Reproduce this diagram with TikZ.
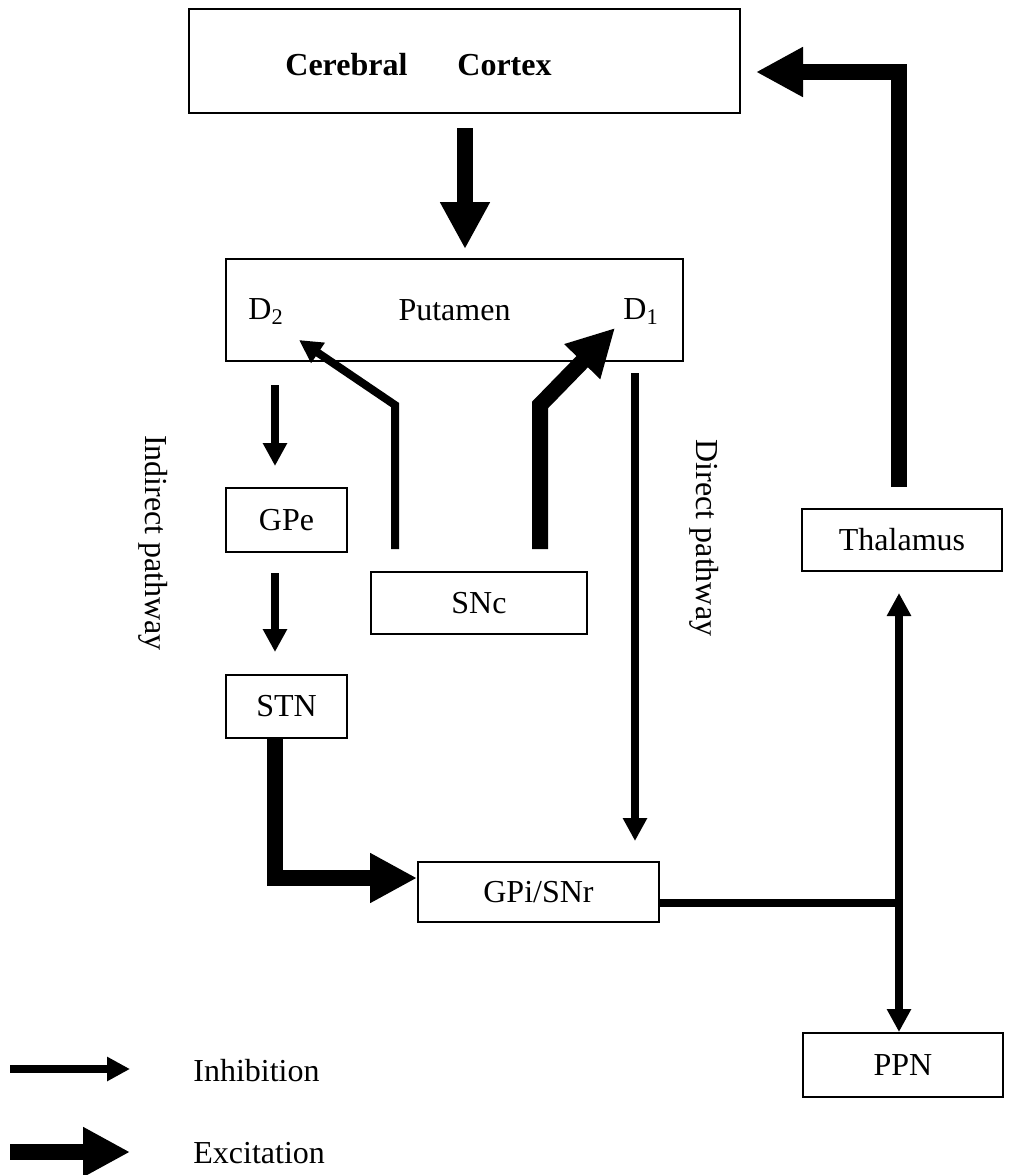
\documentclass[tikz,border=0pt]{standalone}
\usepackage{fontspec}
\setmainfont{Liberation Serif}
\usetikzlibrary{arrows.meta}

\begin{document}
\begin{tikzpicture}[x=0.5pt,y=-0.5pt,
    every node/.style={font=\fontsize{16pt}{19pt}\selectfont},
    box/.style={draw, line width=1pt, inner sep=0pt},
    inhib/.style={line width=4pt, -{Triangle[width=11.5pt,length=11.5pt]}},
    excit/.style={line width=8pt, -{Triangle[width=23.5pt,length=23.5pt]}}]
    \useasboundingbox (0,0) rectangle (1025,1175);
    % boxes
    \node[box, minimum width=275.5pt, minimum height=52pt] (cortex) at (464.5,61) {};
    \node[anchor=base west, inner sep=0pt, font=\fontsize{16pt}{19pt}\selectfont\bfseries] (cortextxt) at (285,75) {Cerebral\hspace{25pt}Cortex};
    \node[box, minimum width=228.5pt, minimum height=51pt] (putamen) at (454.5,310) {Putamen};
    \node[anchor=base west, inner sep=0pt] (d2) at (248,319) {D\textsubscript{2}};
    \node[anchor=base west, inner sep=0pt] (d1) at (623,319) {D\textsubscript{1}};
    \node[box, minimum width=60.5pt, minimum height=32pt] (gpe) at (286.5,520) {GPe};
    \node[box, minimum width=60.5pt, minimum height=31.5pt] (stn) at (286.5,706.5) {STN};
    \node[box, minimum width=108pt, minimum height=31pt] (snc) at (479,603) {SNc};
    \node[box, minimum width=100pt, minimum height=31pt] (thal) at (902,540) {Thalamus};
    \node[box, minimum width=120.5pt, minimum height=30pt] (gpi) at (538.5,892) {GPi/SNr};
    \node[box, minimum width=100pt, minimum height=32pt] (ppn) at (903,1065) {PPN};
    \node[rotate=-90] (indirect) at (153,543) {Indirect pathway};
    \node[rotate=-90] (direct) at (704,538) {Direct pathway};
    % connections
    \coordinate (ctx) at (465,128);
    \draw[excit, shorten >=4.5pt] (ctx) -- (ctx |- putamen.north);
    \coordinate (tcbend) at (899,72);
    \draw[excit, shorten <=10.5pt, shorten >=7.5pt] (tcbend |- thal.north) -- (tcbend) -- (tcbend -| cortex.east);
    \coordinate (d2bend) at (395,405);
    \coordinate (d2tip) at (299,340);
    \draw[inhib, shorten <=11pt] (d2bend |- snc.north) -- (d2bend) -- (d2tip);
    \coordinate (d1bend) at (540,405);
    \coordinate (d1tip) at (615,328);
    \draw[excit, shorten <=11pt] (d1bend |- snc.north) -- (d1bend) -- (d1tip);
    \coordinate (indx) at (275,0);
    \draw[inhib, shorten <=11.5pt, shorten >=10.5pt] (indx |- putamen.south) -- (indx |- gpe.north);
    \draw[inhib, shorten <=10pt, shorten >=11pt] (indx |- gpe.south) -- (indx |- stn.north);
    \coordinate (stnbend) at (275,878);
    \draw[excit] (stnbend |- stn.south) -- (stnbend) -- (stnbend -| gpi.west);
    \coordinate (dirx) at (635,0);
    \draw[inhib, shorten <=5.5pt, shorten >=10pt] (dirx |- putamen.south) -- (dirx |- gpi.north);
    \coordinate (junc) at (899,903);
    \draw[line width=4pt] (gpi.east |- junc) -- (junc);
    \draw[inhib, shorten >=10.5pt] (junc) -- (junc |- thal.south);
    \draw[inhib] (junc) -- (junc |- ppn.north);
    % legend
    \coordinate (inhA) at (10,1069);
    \coordinate (inhB) at (130,1069);
    \draw[inhib] (inhA) -- (inhB);
    \node[anchor=west, inner sep=0pt] (inhtxt) at (193,1071) {Inhibition};
    \coordinate (excA) at (10,1152);
    \coordinate (excB) at (130,1152);
    \draw[excit] (excA) -- (excB);
    \node[anchor=west, inner sep=0pt] (exctxt) at (193,1153) {Excitation};
\end{tikzpicture}
\end{document}
